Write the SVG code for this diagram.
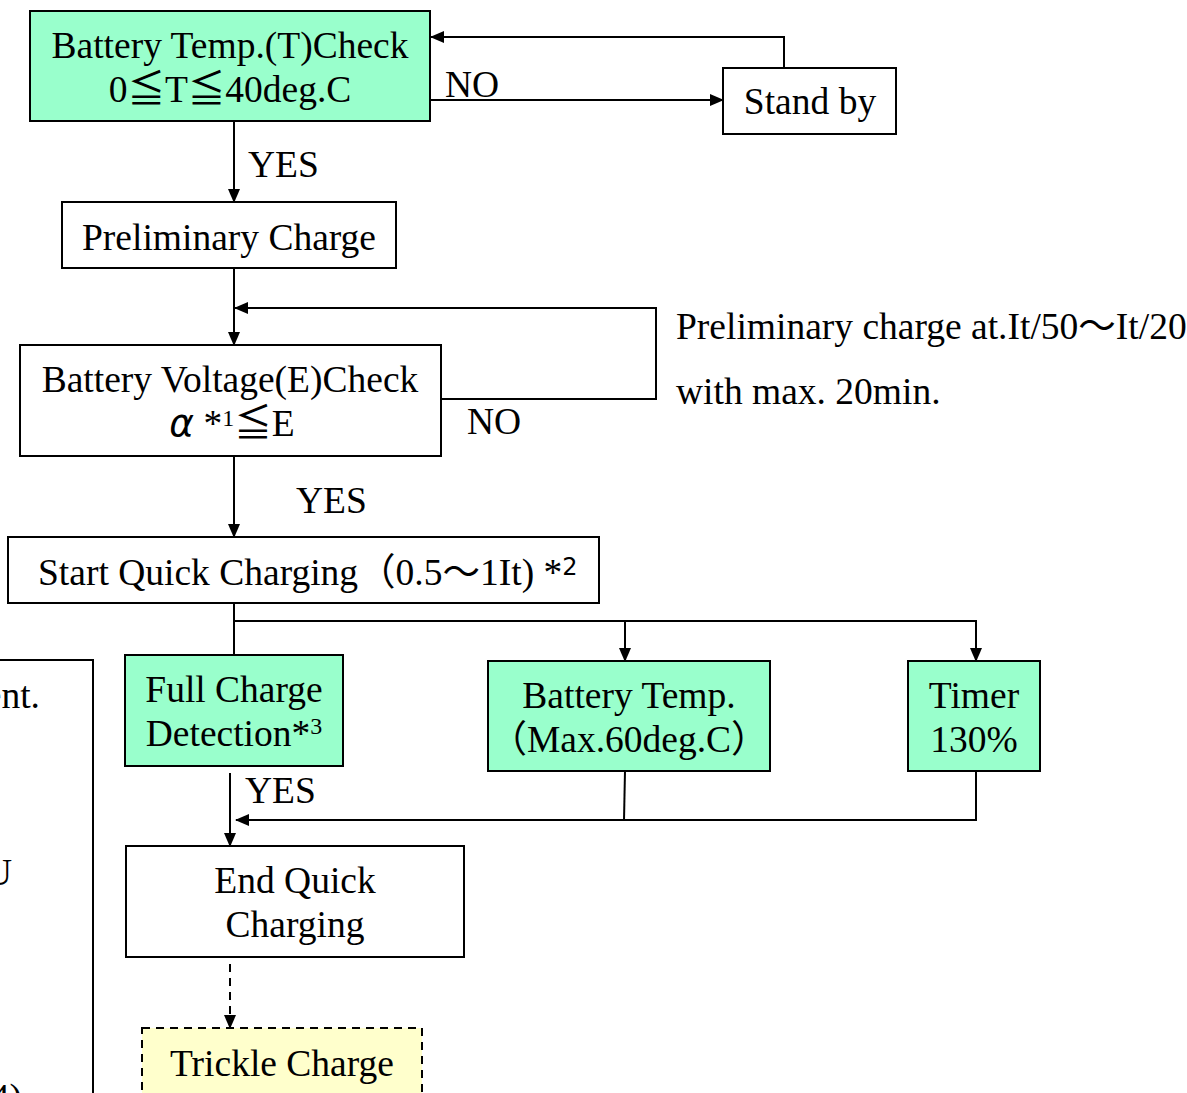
<svg xmlns="http://www.w3.org/2000/svg" width="1187" height="1093" viewBox="0 0 1187 1093">
<style>
text{font-family:"Liberation Serif","Noto Sans CJK JP",serif;font-size:37.5px;fill:#000}
.c{text-anchor:middle}
.box{fill:#fff;stroke:#000;stroke-width:2}
.g{fill:#99FFCC}
.y{fill:#FFFFCC;stroke-dasharray:8 6}
.ln{fill:none;stroke:#000;stroke-width:2}
.d{stroke-dasharray:8 6}
.sup{font-size:24px}
</style>
<defs>
<marker id="ah" markerWidth="14" markerHeight="14" refX="13" refY="7" orient="auto" markerUnits="userSpaceOnUse">
<path d="M0,1 L14,7 L0,13 Z" fill="#000"/>
</marker>
</defs>
<g id="connectors">
<path class="ln" d="M430,100 H723" marker-end="url(#ah)"/>
<path class="ln" d="M784,68 V37 H431" marker-end="url(#ah)"/>
<path class="ln" d="M234,121 V202" marker-end="url(#ah)"/>
<path class="ln" d="M234,268 V345" marker-end="url(#ah)"/>
<path class="ln" d="M441,399 H656 V308 H235" marker-end="url(#ah)"/>
<path class="ln" d="M234,456 V537" marker-end="url(#ah)"/>
<path class="ln" d="M234,603 V655"/>
<path class="ln" d="M234,621 H976 V661" marker-end="url(#ah)"/>
<path class="ln" d="M625,621 V661" marker-end="url(#ah)"/>
<path class="ln" d="M230,773 V846" marker-end="url(#ah)"/>
<path class="ln" d="M625,771 L624,820"/>
<path class="ln" d="M976,771 V820 H236" marker-end="url(#ah)"/>
<path class="ln d" d="M230,950 V1028" marker-end="url(#ah)"/>
<text x="445" y="97">NO</text>
<text x="248" y="177">YES</text>
<text x="467" y="434">NO</text>
<text x="296" y="513">YES</text>
<text x="245" y="803">YES</text>
</g>
<g id="n-temp-check">
<rect class="box g" x="30" y="11" width="400" height="110"/>
<text class="c" x="230" y="58">Battery Temp.(T)Check</text>
<text class="c" x="230" y="102">0≦T≦40deg.C</text>
</g>
<g id="n-standby">
<rect class="box" x="723" y="68" width="173" height="66"/>
<text class="c" x="810" y="114">Stand by</text>
</g>
<g id="n-prelim">
<rect class="box" x="62" y="202" width="334" height="66"/>
<text class="c" x="229" y="250">Preliminary Charge</text>
</g>
<g id="n-volt-check">
<rect class="box" x="20" y="345" width="421" height="111"/>
<text class="c" x="230" y="392">Battery Voltage(E)Check</text>
<text class="c" x="232" y="436"><tspan font-style="italic" font-family="DejaVu Sans, sans-serif">α</tspan> *<tspan class="sup" dy="-10">1</tspan><tspan dy="10">≦E</tspan></text>
</g>
<g id="note-prelim">
<text x="676" y="339">Preliminary charge at.It/50〜It/20</text>
<text x="676" y="404">with max. 20min.</text>
</g>
<g id="n-start-quick">
<rect class="box" x="8" y="537" width="591" height="66"/>
<text x="38" y="585">Start Quick Charging（0.5〜1It) *<tspan class="sup" font-family="DejaVu Sans, sans-serif" dy="-10">2</tspan></text>
</g>
<g id="n-full-charge">
<rect class="box g" x="125" y="655" width="218" height="111"/>
<text class="c" x="234" y="702">Full Charge</text>
<text class="c" x="234" y="746">Detection*<tspan class="sup" dy="-12">3</tspan></text>
</g>
<g id="n-batt-temp">
<rect class="box g" x="488" y="661" width="282" height="110"/>
<text class="c" x="629" y="708">Battery Temp.</text>
<text class="c" x="629" y="752">（Max.60deg.C）</text>
</g>
<g id="n-timer">
<rect class="box g" x="908" y="661" width="132" height="110"/>
<text class="c" x="974" y="708">Timer</text>
<text class="c" x="974" y="752">130%</text>
</g>
<g id="n-end-quick">
<rect class="box" x="126" y="846" width="338" height="111"/>
<text class="c" x="295" y="893">End Quick</text>
<text class="c" x="295" y="937">Charging</text>
</g>
<g id="n-trickle">
<rect class="box y" x="142" y="1028" width="280" height="80"/>
<text class="c" x="282" y="1076">Trickle Charge</text>
</g>
<g id="n-left-partial">
<rect class="box" x="-300" y="660" width="393" height="460"/>
<text x="40" y="708" text-anchor="end">ent.</text>
<text x="12" y="885" text-anchor="end">U</text>
<text x="22" y="1110" text-anchor="end">4)</text>
</g>
</svg>
